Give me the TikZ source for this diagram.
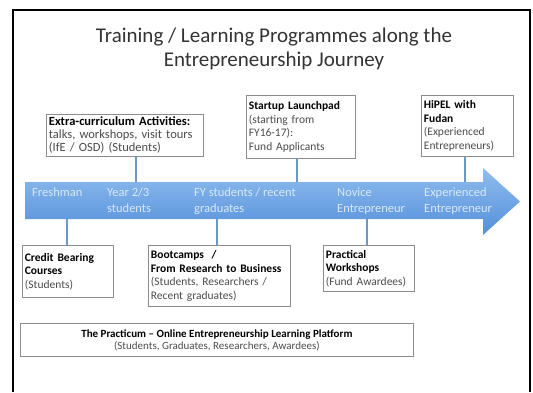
\documentclass[tikz,border=0pt]{standalone}
\usepackage{fontspec}
\setmainfont{Carlito}
\definecolor{arrowtop}{rgb}{0.56,0.74,0.93}
\definecolor{arrowbot}{rgb}{0.33,0.56,0.86}
\definecolor{stagetext}{rgb}{0.85,0.91,0.98}
\definecolor{boxgray}{rgb}{0.55,0.55,0.55}
\definecolor{textgray}{rgb}{0.3,0.3,0.3}
\definecolor{linkblue}{rgb}{0.42,0.6,0.78}
\definecolor{titlegray}{rgb}{0.2,0.2,0.2}

\begin{document}
\begin{tikzpicture}[x=1pt,y=-1pt,
  box/.style={draw=boxgray,fill=white,line width=0.8pt,anchor=north west,align=left,inner sep=2.5pt,text=textgray,font=\fontsize{11.5}{13.5}\selectfont},
  link/.style={draw=linkblue,line width=1.3pt},
  stage/.style={anchor=north west,align=left,inner sep=0pt,text=stagetext,font=\fontsize{12.5}{16}\selectfont}]
\useasboundingbox (0,0) rectangle (533,392);
\draw[line width=1.5pt] (13,392) -- (13,10) -- (530,10) -- (530,392);
\node[align=center,text=titlegray,font=\fontsize{21}{24}\selectfont] (title) at (274,49) {Training / Learning Programmes along the\\Entrepreneurship Journey};
% journey arrow
\shade[top color=arrowtop,bottom color=arrowbot] (25,182) -- (483,182) -- (483,168) -- (520,201.5) -- (483,235) -- (483,219) -- (25,219) -- cycle;
\coordinate (jtop) at (25,182);
\coordinate (jbot) at (25,219);
\node[stage] (fresh) at (32,188) {Freshman};
\node[stage] (year) at (107,188) {Year 2/3\\students};
\node[stage] (fy) at (194,188) {FY students / recent\\graduates};
\node[stage] (novice) at (337,188) {Novice\\Entrepreneur};
\node[stage] (exper) at (424,188) {Experienced\\Entrepreneur};
% programmes
\node[box,text width=152pt,minimum height=40pt,font=\fontsize{12.5}{13}\selectfont] (extra) at (46,114) {\textbf{\color{black}Extra-curriculum Activities:}\\talks, workshops, visit tours\\(IfE / OSD) (Students)};
\node[box,text width=104pt,minimum height=63pt] (launch) at (246,95) {\textbf{\color{black}Startup Launchpad}\\(starting from\\FY16-17):\\Fund Applicants};
\node[box,text width=87pt,minimum height=61pt] (hipel) at (421,95) {\textbf{\color{black}HiPEL with}\\\textbf{\color{black}Fudan}\\(Experienced\\Entrepreneurs)};
\node[box,text width=86pt,minimum height=52pt] (credit) at (22,245) {\textbf{\color{black}Credit Bearing}\\\textbf{\color{black}Courses}\\(Students)};
\node[box,text width=137pt,minimum height=61pt] (boot) at (148,245) {\textbf{\color{black}Bootcamps~ /}\\\textbf{\color{black}From Research to Business}\\(Students, Researchers /\\Recent graduates)};
\node[box,text width=86pt,minimum height=46pt] (pract) at (323,245) {\textbf{\color{black}Practical}\\\textbf{\color{black}Workshops}\\(Fund Awardees)};
\node[box,align=center,minimum width=393pt,minimum height=33pt,font=\fontsize{11}{12}\selectfont] (online) at (20,323) {\textbf{\color{black}The Practicum -- Online Entrepreneurship Learning Platform}\\(Students, Graduates, Researchers, Awardees)};
% links
\draw[link] (extra.south -| 136,0) -- (jtop -| 136,0);
\draw[link] (launch.south -| 297,0) -- (jtop -| 297,0);
\draw[link] (hipel.south -| 465,0) -- (jtop -| 465,0);
\draw[link] (jbot -| 67,0) -- (credit.north -| 67,0);
\draw[link] (jbot -| 217,0) -- (boot.north -| 217,0);
\draw[link] (jbot -| 367,0) -- (pract.north -| 367,0);
\end{tikzpicture}
\end{document}
